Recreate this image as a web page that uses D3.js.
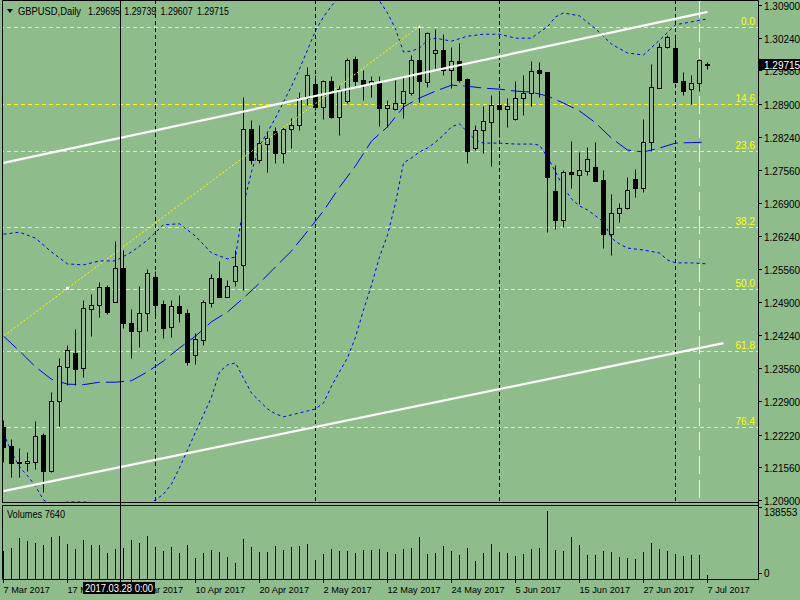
<html>
<head>
<script src="https://d3js.org/d3.v7.min.js"></script>
<style>
  body { margin: 0; background: #8fbc8b; }
  text { font-family: "Liberation Sans", Arial, sans-serif; font-size: 10px; }
  .date { font-size: 9.2px; }
  .head { font-size: 11px; }
</style>
</head>
<body>
<svg id="chart" width="800" height="600"></svg>
<script>
    const symbol = "GBPUSD,Daily";
    const lastQuote = ["1.29695", "1.29739", "1.29607", "1.29715"];

    // daily bars, 7 Mar 2017 .. 7 Jul 2017
    const open = [1.2238,1.2199,1.2167,1.2164,1.2167,1.2221,1.2149,1.2289,1.2358,1.2386,
        1.2356,1.2476,1.2483,1.2520,1.2491,1.2558,1.2447,1.2432,1.2467,1.2540,
        1.2486,1.2439,1.2482,1.2467,1.2383,1.2413,1.2487,1.2538,1.2501,1.2532,
        1.2565,1.2839,1.2777,1.2809,1.2835,1.2792,1.2839,1.2848,1.2902,1.2930,
        1.2883,1.2937,1.2864,1.2896,1.2980,1.2939,1.2932,1.2932,1.2881,1.2880,
        1.2893,1.2913,1.2979,1.2935,1.2994,1.2999,1.2959,1.2977,1.2940,1.2802,
        1.2838,1.2854,1.2888,1.2879,1.2859,1.2902,1.2912,1.2959,1.2955,1.2714,
        1.2656,1.2753,1.2747,1.2755,1.2763,1.2736,1.2627,1.2669,1.2679,1.2738,
        1.2720,1.2813,1.2923,1.3005,1.3003,1.2937,1.2920,1.2932,1.29695];
    const high = [1.2252,1.2213,1.2195,1.2187,1.2250,1.2225,1.2308,1.2376,1.2403,1.2435,
        1.2494,1.2506,1.2530,1.2524,1.2613,1.2595,1.2476,1.2522,1.2556,1.2553,
        1.2494,1.2495,1.2504,1.2476,1.2427,1.2494,1.2546,1.2573,1.2534,1.2595,
        1.2904,1.2858,1.2848,1.2834,1.2844,1.2844,1.2861,1.2915,1.2964,1.2949,
        1.2939,1.2947,1.2928,1.2982,1.2987,1.2959,1.2947,1.2947,1.2898,1.2939,
        1.2945,1.2989,1.3048,1.3036,1.3042,1.3031,1.3005,1.3013,1.2942,1.2848,
        1.2886,1.2908,1.2915,1.2902,1.2937,1.2949,1.2977,1.2975,1.2955,1.2767,
        1.2757,1.2815,1.2794,1.2804,1.2813,1.2757,1.2708,1.2691,1.2743,1.2758,
        1.2860,1.2971,1.3014,1.3029,1.3023,1.2955,1.2949,1.2980,1.29739];
    const low = [1.2167,1.2137,1.2136,1.2149,1.2153,1.2107,1.2147,1.2240,1.2322,1.2322,
        1.2339,1.2421,1.2460,1.2466,1.2489,1.2437,1.2376,1.2400,1.2432,1.2460,
        1.2417,1.2420,1.2449,1.2363,1.2365,1.2403,1.2479,1.2500,1.2500,1.2523,
        1.2514,1.2768,1.2770,1.2753,1.2770,1.2771,1.2802,1.2837,1.2887,1.2878,
        1.2860,1.2862,1.2827,1.2892,1.2927,1.2898,1.2905,1.2846,1.2843,1.2878,
        1.2862,1.2908,1.2895,1.2925,1.2962,1.2949,1.2923,1.2935,1.2771,1.2797,
        1.2792,1.2765,1.2824,1.2843,1.2858,1.2868,1.2885,1.2905,1.2632,1.2637,
        1.2641,1.2720,1.2688,1.2747,1.2734,1.2600,1.2585,1.2652,1.2678,1.2703,
        1.2713,1.2795,1.2922,1.3003,1.2934,1.2908,1.2891,1.2917,1.29607];
    const close = [1.2198,1.2164,1.2164,1.2169,1.2219,1.2149,1.2289,1.2361,1.2394,1.2355,
        1.2477,1.2483,1.2520,1.2470,1.2558,1.2448,1.2432,1.2467,1.2548,1.2483,
        1.2438,1.2482,1.2467,1.2369,1.2415,1.2489,1.2538,1.2501,1.2523,1.2563,
        1.2839,1.2777,1.2811,1.2821,1.2792,1.2839,1.2848,1.2902,1.2949,1.2883,
        1.2937,1.2864,1.2920,1.2979,1.2937,1.2930,1.2937,1.2881,1.2888,1.2893,
        1.2916,1.2979,1.2937,1.3033,1.2999,1.2959,1.2977,1.2939,1.2795,1.2838,
        1.2856,1.2888,1.2879,1.2885,1.2902,1.2912,1.2957,1.2953,1.2743,1.2656,
        1.2752,1.2749,1.2757,1.2779,1.2735,1.2627,1.2670,1.2679,1.2716,1.2720,
        1.2813,1.2924,1.3006,1.3026,1.2935,1.2917,1.2932,1.2979,1.29715];
    const volume = [57000,63800,84100,78000,72700,69300,86200,88200,71300,61100,
        79500,69300,69300,53000,61100,63800,79500,73400,88200,65800,
        57000,65800,53000,69300,42800,53000,59100,55000,44800,32600,
        81500,65800,55000,55000,67800,59100,65800,67800,71300,38700,
        50900,61100,57000,57000,53000,59100,59100,61100,55000,50900,
        61100,63200,86200,50900,53000,67200,57000,48900,63200,36700,
        53000,71300,55000,53000,46900,50900,61100,63200,138553,59100,
        57000,86200,69300,48900,48900,57000,55000,44800,42800,40700,
        55000,73400,61100,57000,50900,46900,48900,48900,7640];

    // bollinger bands as [bar, price]
    const upperBand = [[0,1.2627],[2,1.2631],[4,1.2619],[6,1.2591],[8,1.2567],[10,1.2565],[12,1.2573],[14,1.2573],
        [16,1.2591],[18,1.2615],[20,1.2646],[22,1.2648],[24,1.2623],[26,1.2589],[28,1.2577],[29,1.2581],
        [30,1.2686],[31,1.2753],[32,1.2805],[33,1.2833],[34,1.2862],[35,1.2894],[36,1.2926],[37,1.2961],
        [38,1.2999],[39,1.3038],[40,1.3066],[41,1.3088],[42,1.3106],[43,1.3120],[44,1.3126],[45,1.3124],
        [46,1.3114],[47,1.3098],[48,1.3074],[49,1.3042],[50,1.2995],[51,1.2997],[52,1.3003],[53,1.3019],
        [54,1.3023],[56,1.3017],[58,1.3027],[60,1.3031],[62,1.3031],[64,1.3023],[66,1.3023],[67,1.3035],
        [68,1.3046],[69,1.3066],[70,1.3074],[72,1.3068],[74,1.3042],[76,1.3011],[78,1.2993],[80,1.2989],
        [82,1.3019],[84,1.3050],[86,1.3056],[88,1.3062]];
    const middleBand = [[0,1.2421],[2,1.2391],[4,1.2359],[6,1.2334],[8,1.2324],[10,1.2323],[12,1.2328],[14,1.2328],
        [16,1.2331],[18,1.2349],[20,1.2371],[22,1.2397],[24,1.2421],[26,1.2450],[28,1.2470],[30,1.2498],
        [32,1.2528],[34,1.2561],[36,1.2593],[38,1.2633],[40,1.2674],[42,1.2722],[44,1.2765],[46,1.2815],
        [48,1.2844],[50,1.2884],[52,1.2902],[54,1.2916],[56,1.2928],[58,1.2926],[60,1.2922],[62,1.2920],
        [64,1.2916],[66,1.2914],[68,1.2906],[70,1.2892],[72,1.2876],[74,1.2852],[76,1.2821],[78,1.2797],
        [80,1.2793],[82,1.2801],[84,1.2811],[86,1.2812],[88,1.2813]];
    const lowerBand = [[0,1.2225],[1,1.2187],[2,1.2157],[3,1.2139],[4,1.2118],[5,1.2090],[6,1.2080],[8,1.2086],
        [10,1.2086],[12,1.2084],[14,1.2078],[16,1.2076],[18,1.2080],[19,1.2090],[20,1.2102],[21,1.2122],
        [22,1.2155],[23,1.2191],[24,1.2227],[25,1.2262],[26,1.2298],[27,1.2349],[28,1.2363],[29,1.2367],
        [30,1.2336],[31,1.2306],[32,1.2290],[33,1.2274],[34,1.2264],[35,1.2258],[36,1.2262],[37,1.2266],
        [38,1.2270],[39,1.2274],[40,1.2286],[41,1.2320],[42,1.2349],[43,1.2377],[44,1.2419],[45,1.2474],
        [46,1.2524],[47,1.2581],[48,1.2625],[49,1.2690],[50,1.2771],[51,1.2781],[52,1.2793],[53,1.2801],
        [54,1.2813],[55,1.2827],[56,1.2844],[57,1.2850],[58,1.2833],[59,1.2817],[60,1.2811],[62,1.2811],
        [64,1.2809],[66,1.2809],[67,1.2807],[68,1.2783],[69,1.2753],[70,1.2722],[71,1.2698],[72,1.2684],
        [73,1.2676],[74,1.2664],[75,1.2652],[76,1.2619],[77,1.2607],[78,1.2599],[80,1.2595],[82,1.2589],
        [83,1.2575],[84,1.2569],[86,1.2569],[88,1.2567]];

    const channelTop = [[0,1.2771],[88,1.3076]];
    const channelBottom = [[0,1.2108],[90,1.2407]];
    const fibAnchor = [[-36,1.1988],[52,1.3047]];
    const fibNames = ["0.0","14.6","23.6","38.2","50.0","61.8","76.4"];
    const fibPrices = [1.3046,1.2890,1.2795,1.2642,1.2516,1.2391,1.2238];

    const priceTicks = ["1.30900","1.30240","1.29580","1.28900","1.28240","1.27560","1.26900","1.26240",
        "1.25560","1.24900","1.24240","1.23560","1.22900","1.22220","1.21560","1.20900"];
    const dateTicks = [0,8,16,24,32,40,48,56,64,72,80,88];
    const dateLabels = ["7 Mar 2017","17 Mar 2017","29 Mar 2017","10 Apr 2017","20 Apr 2017","2 May 2017",
        "12 May 2017","24 May 2017","5 Jun 2017","15 Jun 2017","27 Jun 2017","7 Jul 2017"];
    const separators = [19,39,62,84];   // first bar of each month
    const shiftBar = 87;
    const crosshairBar = 14.56;
    const crosshairLabel = "2017.03.28 0:00";
    const volumeMax = 138553;

    const bg = "#8fbc8b";
    const svg = d3.select("#chart");

    const x = d3.scaleLinear().domain([0, 88]).range([3.5, 707.5]);
    const y = d3.scaleLinear().domain([1.209, 1.309]).range([500, 5]);
    const yv = d3.scaleLinear().domain([0, volumeMax]).range([579, 511]);
    const snap = v => Math.round(y(v)) + 0.5;

    svg.append("rect").attr("width", 800).attr("height", 600).attr("fill", bg);

    svg.append("clipPath").attr("id", "mainClip")
        .append("rect").attr("x", 3).attr("y", 1).attr("width", 755).attr("height", 501);

    const main = svg.append("g").attr("clip-path", "url(#mainClip)");

    // fibo levels
    main.append("g").selectAll("line")
        .data(fibPrices)
        .join("line")
        .attr("x1", 0).attr("x2", 758)
        .attr("y1", d => snap(d)).attr("y2", d => snap(d))
        .attr("stroke", "#ffff00")
        .attr("stroke-dasharray", "4,3");

    // month separators
    main.append("g").selectAll("line")
        .data(separators)
        .join("line")
        .attr("x1", d => x(d)).attr("x2", d => x(d))
        .attr("y1", 0).attr("y2", 503)
        .attr("stroke", "black")
        .attr("stroke-dasharray", "4,3");

    main.append("line")
        .attr("x1", x(shiftBar)).attr("x2", x(shiftBar))
        .attr("y1", 0).attr("y2", 503)
        .attr("stroke", "white")
        .attr("stroke-dasharray", "18,6");

    const bandLine = d3.line().x(d => x(d[0])).y(d => y(d[1]));
    main.append("path").attr("d", bandLine(upperBand))
        .attr("fill", "none").attr("stroke", "#0000ff").attr("stroke-dasharray", "3,3");
    main.append("path").attr("d", bandLine(lowerBand))
        .attr("fill", "none").attr("stroke", "#0000ff").attr("stroke-dasharray", "3,3");
    main.append("path").attr("d", bandLine(middleBand))
        .attr("fill", "none").attr("stroke", "#0000ff").attr("stroke-dasharray", "18,6");

    // candles
    const bars = d3.range(open.length).map(i => ({ i, o: open[i], h: high[i], l: low[i], c: close[i] }));
    const candle = main.append("g").selectAll("g")
        .data(bars)
        .join("g");

    candle.append("line")
        .attr("x1", d => x(d.i)).attr("x2", d => x(d.i))
        .attr("y1", d => snap(d.h)).attr("y2", d => snap(d.l))
        .attr("stroke", "black");

    candle.append("rect")
        .attr("x", d => x(d.i) - 2)
        .attr("width", 4)
        .attr("y", d => Math.min(snap(d.o), snap(d.c)))
        .attr("height", d => Math.abs(snap(d.o) - snap(d.c)))
        .attr("fill", d => d.c >= d.o ? bg : "black")
        .attr("stroke", "black");

    // channel
    const trend = d3.line().x(d => x(d[0])).y(d => y(d[1]));
    [channelTop, channelBottom].forEach(c => {
        main.append("path").attr("d", trend(c))
            .attr("stroke", "white").attr("stroke-width", 2.2).attr("fill", "none");
    });

    // fibo base line
    main.append("path").attr("d", trend(fibAnchor))
        .attr("stroke", "#ffff00").attr("stroke-dasharray", "2,2").attr("fill", "none");
    const fibMid = [(fibAnchor[0][0] + fibAnchor[1][0]) / 2, (fibAnchor[0][1] + fibAnchor[1][1]) / 2];
    main.append("rect")
        .attr("x", x(fibMid[0]) - 1.5).attr("y", y(fibMid[1]) - 1.5)
        .attr("width", 3).attr("height", 3).attr("fill", "white");
    main.append("path")
        .attr("d", `M${x(fibAnchor[1][0]) - 2},${y(fibAnchor[1][1]) + 2}l2,-3l2,3z`)
        .attr("fill", "#ffffb0");

    main.append("g").selectAll("text")
        .data(fibNames)
        .join("text")
        .attr("x", 755)
        .attr("y", (d, i) => snap(fibPrices[i]) - 2.5)
        .attr("text-anchor", "end")
        .attr("fill", "#ffff00")
        .text(d => d);

    // volumes
    svg.append("g").selectAll("line")
        .data(volume)
        .join("line")
        .attr("x1", (d, i) => x(i)).attr("x2", (d, i) => x(i))
        .attr("y1", d => Math.round(yv(d))).attr("y2", 579)
        .attr("stroke", "black");

    // crosshair
    svg.append("line")
        .attr("x1", Math.round(x(crosshairBar)) + 0.5).attr("x2", Math.round(x(crosshairBar)) + 0.5)
        .attr("y1", 0).attr("y2", 583)
        .attr("stroke", "black");

    // frames
    const frame = svg.append("g").attr("stroke", "black").attr("fill", "none");
    frame.append("path").attr("d", "M2.5,503V0.5H758.5V579.5");
    frame.append("path").attr("d", "M2.5,502.5H758.5M2.5,505.5H758.5M2.5,505.5V579.5H758.5");

    // price axis
    const ticks = svg.append("g");
    ticks.selectAll("line")
        .data(priceTicks)
        .join("line")
        .attr("x1", 758.5).attr("x2", 762)
        .attr("y1", d => snap(+d)).attr("y2", d => snap(+d))
        .attr("stroke", "black");
    ticks.selectAll("text")
        .data(priceTicks)
        .join("text")
        .attr("x", 764)
        .attr("y", d => snap(+d) + 4)
        .attr("fill", "black")
        .text(d => d);

    // volume axis
    svg.append("g").selectAll("text")
        .data([volumeMax, 0])
        .join("text")
        .attr("x", 764)
        .attr("y", d => d === 0 ? yv(d) - 2 : yv(d) + 5)
        .text(d => d);
    svg.append("g").selectAll("line")
        .data([volumeMax, 0])
        .join("line")
        .attr("x1", 758.5).attr("x2", 762)
        .attr("y1", d => d === 0 ? yv(d) - 5.5 : yv(d) - 3.5)
        .attr("y2", d => d === 0 ? yv(d) - 5.5 : yv(d) - 3.5)
        .attr("stroke", "black");

    // time axis
    svg.append("g").selectAll("line")
        .data(dateTicks)
        .join("line")
        .attr("x1", d => x(d)).attr("x2", d => x(d))
        .attr("y1", 580).attr("y2", 583)
        .attr("stroke", "black");
    svg.append("g").selectAll("text")
        .data(dateTicks)
        .join("text")
        .attr("class", "date")
        .attr("x", d => x(d))
        .attr("y", 593)
        .text((d, i) => dateLabels[i]);

    // header
    svg.append("path").attr("d", "M7,9H13L10,13Z").attr("fill", "black");
    svg.append("text").attr("class", "head").attr("x", 18).attr("y", 15)
        .attr("textLength", 63).attr("lengthAdjust", "spacingAndGlyphs").text(symbol);
    svg.append("g").selectAll("text")
        .data(lastQuote)
        .join("text")
        .attr("class", "head")
        .attr("x", (d, i) => 88 + i * 36.3)
        .attr("y", 15)
        .attr("textLength", 32)
        .attr("lengthAdjust", "spacingAndGlyphs")
        .text(d => d);

    svg.append("text").attr("class", "head").attr("x", 7).attr("y", 518)
        .attr("textLength", 58).attr("lengthAdjust", "spacingAndGlyphs")
        .text("Volumes " + volume[volume.length - 1]);

    // current price box
    svg.append("rect").attr("x", 759).attr("y", snap(close[close.length - 1]) - 5.5)
        .attr("width", 41).attr("height", 11).attr("fill", "black");
    svg.append("text").attr("x", 764).attr("y", snap(close[close.length - 1]) + 4)
        .attr("fill", "white").text(lastQuote[3]);

    // crosshair date box
    svg.append("rect").attr("x", 83).attr("y", 582).attr("width", 72).attr("height", 12).attr("fill", "black");
    svg.append("text").attr("x", 85).attr("y", 592)
        .attr("textLength", 68).attr("lengthAdjust", "spacingAndGlyphs")
        .attr("fill", "white").text(crosshairLabel);
</script>
</body>
</html>
